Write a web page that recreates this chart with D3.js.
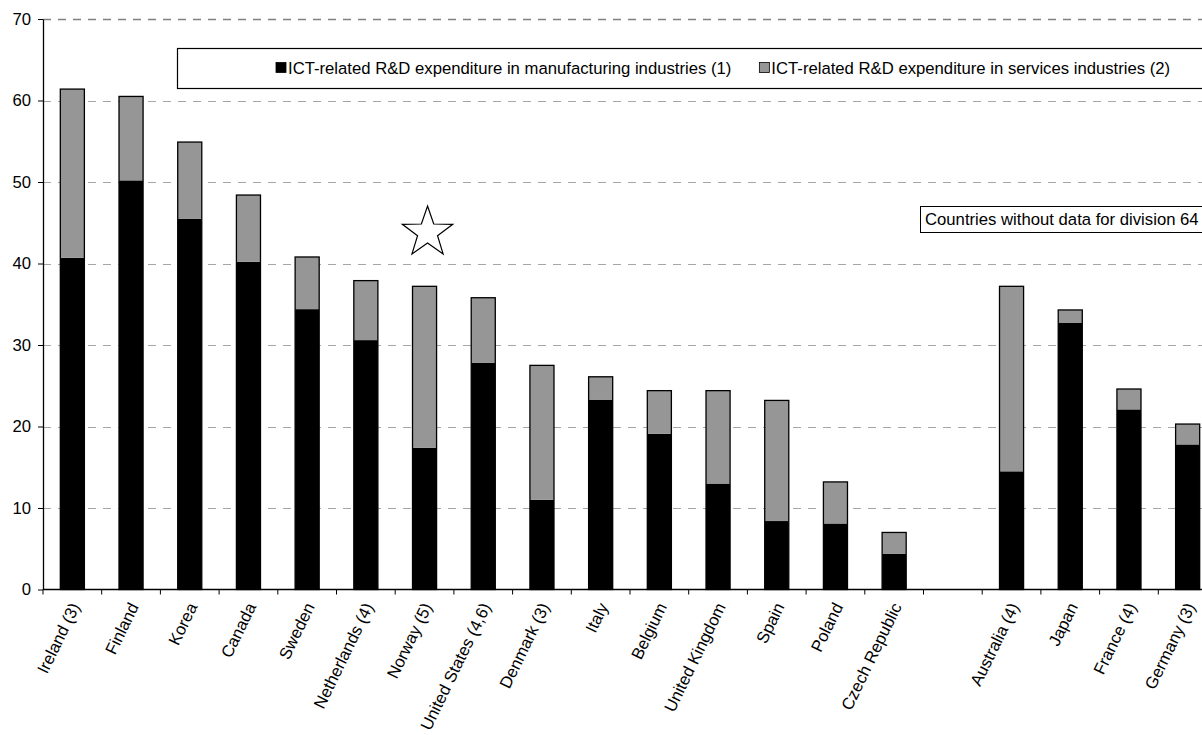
<!DOCTYPE html>
<html>
<head>
<meta charset="utf-8">
<script src="https://cdn.jsdelivr.net/npm/d3@7"></script>
<style>
  html, body { margin: 0; padding: 0; background: #fff; }
  svg { display: block; font-family: "Liberation Sans", Arial, sans-serif; }
</style>
</head>
<body>
<svg id="chart" width="1202" height="735"></svg>
<script>
// Countries in display order; the empty entry separates the group without division-64 data
const countries = ["Ireland (3)", "Finland", "Korea", "Canada", "Sweden", "Netherlands (4)", "Norway (5)",
  "United States (4,6)", "Denmark (3)", "Italy", "Belgium", "United Kingdom", "Spain", "Poland",
  "Czech Republic", "", "Australia (4)", "Japan", "France (4)", "Germany (3)"];

// ICT-related R&D expenditure in manufacturing industries
const manufacturing = [40.7, 50.2, 45.5, 40.2, 34.4, 30.6, 17.4, 27.8, 11.0, 23.3, 19.1, 13.0, 8.4, 8.1,
  4.4, null, 14.5, 32.7, 22.1, 17.8];

// ICT-related R&D expenditure in services industries
const services = [20.7, 10.3, 9.4, 8.2, 6.4, 7.3, 19.8, 8.0, 16.5, 2.8, 5.3, 11.4, 14.8, 5.1,
  2.6, null, 22.7, 1.6, 2.5, 2.5];

const yTicks = [0, 10, 20, 30, 40, 50, 60, 70];

const seriesNames = ["ICT-related R&D expenditure in manufacturing industries (1)",
  "ICT-related R&D expenditure in services industries (2)"];
const seriesColors = ["#000000", "#969696"];

const noteText = "Countries without data for division 64";
const starCountry = "Norway (5)";

const FONT = 16.7;
const svg = d3.select("#chart");
const plot = { left: 43, right: 1217, top: 19, bottom: 589.5 };

const x = d3.scaleBand()
  .domain(d3.range(countries.length))
  .range([plot.left, plot.right])
  .paddingInner(0.59)
  .paddingOuter(0.295);

const y = d3.scaleLinear().domain([0, 70]).range([plot.bottom, plot.top]);

// Dashed horizontal gridlines
svg.append("g")
  .selectAll("line")
  .data(yTicks.filter(d => d > 0))
  .join("line")
  .attr("x1", plot.left).attr("x2", plot.right)
  .attr("y1", d => Math.round(y(d)) + 0.5).attr("y2", d => Math.round(y(d)) + 0.5)
  .attr("stroke", d => d === 70 ? "#808080" : "#a6a6a6")
  .attr("stroke-width", d => d === 70 ? 1.5 : 1)
  .attr("stroke-dasharray", "8,7");

// Stacked bars
const rows = countries.map((c, i) => ({ i, c, m: manufacturing[i], s: services[i] }))
  .filter(r => r.m !== null);
const stack = d3.stack().keys(["m", "s"]);
const layers = stack(rows);

const bars = svg.append("g");
layers.forEach((layer, k) => {
  bars.append("g")
    .selectAll("rect")
    .data(layer)
    .join("rect")
    .attr("x", d => x(d.data.i))
    .attr("width", x.bandwidth())
    .attr("y", d => y(d[1]))
    .attr("height", d => y(d[0]) - y(d[1]))
    .attr("fill", seriesColors[k]);
});
// Outline around each whole bar
bars.append("g")
  .selectAll("rect")
  .data(rows)
  .join("rect")
  .attr("x", d => x(d.i))
  .attr("width", x.bandwidth())
  .attr("y", d => y(d.m + d.s))
  .attr("height", d => y(0) - y(d.m + d.s))
  .attr("fill", "none")
  .attr("stroke", "#000")
  .attr("stroke-width", 1.3);

// Y axis
const yAxis = svg.append("g")
  .attr("transform", `translate(${plot.left},0)`)
  .call(d3.axisLeft(y).tickValues(yTicks).tickSize(5).tickPadding(7).tickSizeOuter(0));
yAxis.select(".domain").attr("stroke", "#000").attr("stroke-width", 1.3);
yAxis.selectAll(".tick line").attr("stroke", "#000");
yAxis.selectAll(".tick text").attr("font-size", FONT).attr("fill", "#000")
  .attr("font-family", "Liberation Sans, Arial, sans-serif");

// X axis: baseline with ticks at category boundaries
const step = x.step();
const boundaries = d3.range(countries.length + 1).map(i =>
  i < countries.length ? x(i) - step * x.paddingInner() / 2 : x(i - 1) + x.bandwidth() + step * x.paddingInner() / 2);
const xAxis = svg.append("g");
xAxis.append("line")
  .attr("x1", plot.left).attr("x2", plot.right)
  .attr("y1", y(0)).attr("y2", y(0))
  .attr("stroke", "#000").attr("stroke-width", 1.3);
xAxis.selectAll("line.tk")
  .data(boundaries)
  .join("line")
  .attr("class", "tk")
  .attr("x1", d => d).attr("x2", d => d)
  .attr("y1", y(0)).attr("y2", y(0) + 5)
  .attr("stroke", "#000");
xAxis.selectAll("text")
  .data(countries.map((c, i) => ({ c, i })).filter(d => d.c))
  .join("text")
  .attr("transform", d => `translate(${x(d.i) + x.bandwidth() / 2 + 8},${y(0) + 17}) rotate(-64)`)
  .attr("text-anchor", "end")
  .attr("font-size", FONT)
  .text(d => d.c);

// Legend box
const legend = svg.append("g");
legend.append("rect")
  .attr("x", 177.5).attr("y", 48.5)
  .attr("width", 1100).attr("height", 40)
  .attr("fill", "#fff").attr("stroke", "#000").attr("stroke-width", 1.2);
let lx = 276;
seriesNames.forEach((name, k) => {
  legend.append("rect")
    .attr("x", lx).attr("y", 62.5).attr("width", 10).attr("height", 10)
    .attr("fill", seriesColors[k]).attr("stroke", "#000").attr("stroke-width", 0.8);
  const t = legend.append("text")
    .attr("x", lx + 12).attr("y", 74)
    .attr("font-size", FONT)
    .text(name);
  lx += 12 + t.node().getComputedTextLength() + 28;
});

// Note box for the group on the right
const note = svg.append("g");
const noteT = note.append("text")
  .attr("x", 925).attr("y", 225)
  .attr("font-size", FONT)
  .text(noteText);
note.insert("rect", "text")
  .attr("x", 920.5).attr("y", 206.5)
  .attr("width", noteT.node().getComputedTextLength() + 12).attr("height", 26)
  .attr("fill", "#fff").attr("stroke", "#000").attr("stroke-width", 1);

// Star marker above Norway
const si = countries.indexOf(starCountry);
const starPts = d3.range(10).map(k => {
  const r = k % 2 === 0 ? 26.5 : 10.5;
  const a = -Math.PI / 2 + k * Math.PI / 5;
  return [r * Math.cos(a), r * Math.sin(a)];
});
svg.append("path")
  .attr("d", d3.line()(starPts) + "Z")
  .attr("transform", `translate(${x(si) + x.bandwidth() / 2 + 3},${y(40) - 31})`)
  .attr("fill", "#fff").attr("stroke", "#000").attr("stroke-width", 1.2);
</script>
</body>
</html>
